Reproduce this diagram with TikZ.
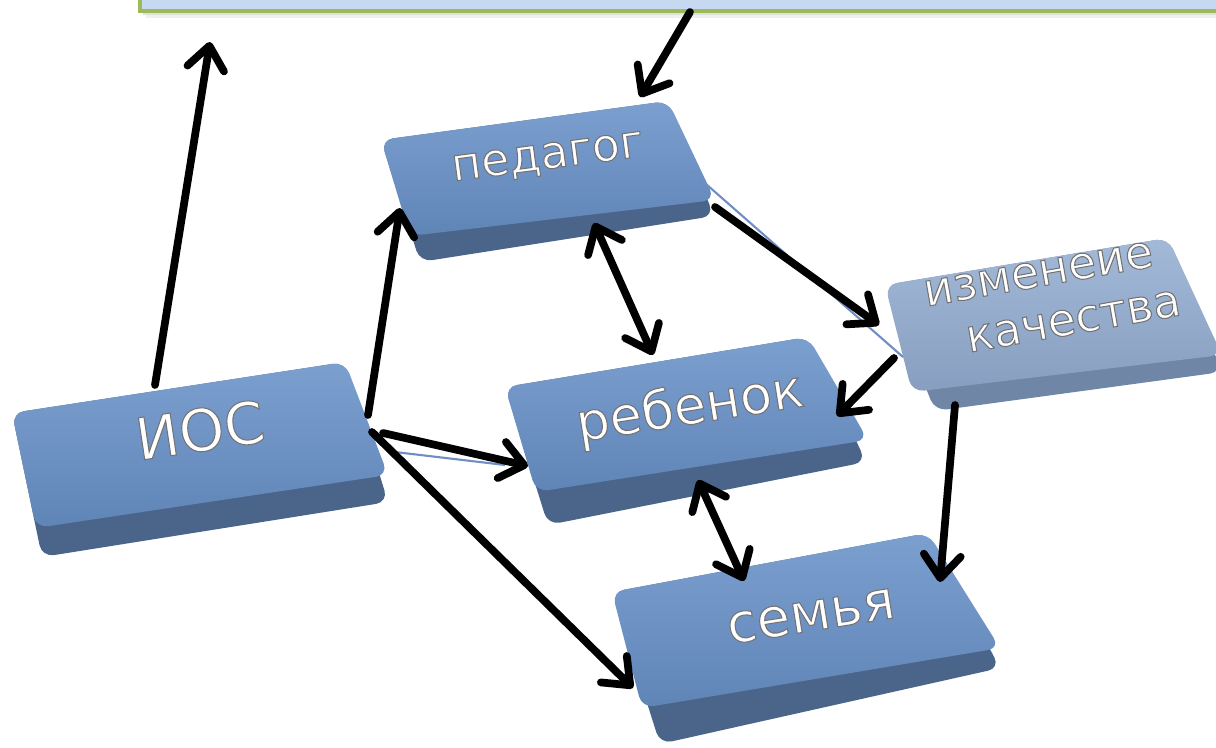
\documentclass[tikz,border=0pt]{standalone}
\usepackage{fontspec}
\setmainfont{DejaVu Sans}
\usetikzlibrary{arrows.meta,calc}
\definecolor{topfill}{HTML}{C6D9F1}
\definecolor{topborder}{HTML}{9BBB59}
\definecolor{kstrip}{HTML}{4A6589}
\definecolor{kfacelo}{HTML}{5F84B6}
\definecolor{krim}{HTML}{7BA0D0}
\definecolor{qstrip}{HTML}{6F86A6}
\definecolor{qfacelo}{HTML}{879EC0}
\definecolor{qrim}{HTML}{A3B9D8}
\definecolor{thinblue}{HTML}{6F8FC4}
\newcommand\drawkey[9]{%
  \fill[#7, rounded corners=2.4mm] #1 -- #2 -- #5 -- #6 -- cycle;
  \shade[top color=#9, bottom color=#8, rounded corners=2.4mm] #1 -- #2 -- #3 -- #4 -- cycle;
}
\newcommand\shtext[1]{\special{pdf:literal direct 2 Tr 0.45 0.45 0.45 RG 0.6 w}#1\special{pdf:literal direct 0 Tr}}
\tikzset{
  arr/.style={line width=4.4pt, black, line cap=round,
    -{Straight Barb[length=4.6mm,width=7.4mm,round]}},
  darr/.style={line width=4.4pt, black, line cap=round,
    {Straight Barb[length=4.6mm,width=7.4mm,round]}-{Straight Barb[length=4.6mm,width=7.4mm,round]}},
  lbl/.style={text=white, inner sep=0pt, align=center},
  thin/.style={thinblue, line width=1.2pt}
}
\begin{document}
\begin{tikzpicture}[x=0.02cm,y=-0.02cm]
\useasboundingbox (0,0) rectangle (1216,747);
% top box
\fill[black!6] (146,-10) rectangle (1236,18);
\fill[black!12] (143,-10) rectangle (1233,15);
\draw[topborder, line width=1.8pt, fill=topfill] (140,-10) rectangle (1230,11);

% keys
\drawkey{(12,413)}{(345,362)}{(388,475)}{(36,528)}{(388,502)}{(42,557)}{kstrip}{kfacelo}{krim}
\drawkey{(381,140)}{(668,101)}{(715,200)}{(410,236)}{(714,216)}{(420,262)}{kstrip}{kfacelo}{krim}
\drawkey{(505,387)}{(808,337)}{(868,440)}{(536,492)}{(866,462)}{(548,525)}{kstrip}{kfacelo}{krim}
\drawkey{(612,592)}{(928,533)}{(1000,648)}{(642,708)}{(1000,668)}{(660,744)}{kstrip}{kfacelo}{krim}
\drawkey{(885,285)}{(1168,238)}{(1222,355)}{(912,392)}{(1222,372)}{(935,411)}{qstrip}{qfacelo}{qrim}

% labels
\node[lbl, rotate=8.5, font=\fontsize{33}{35}\selectfont] (ios) at (200,430) {\shtext{ИОС}};
\node[lbl, rotate=7.5, font=\fontsize{26}{28}\selectfont] (ped) at (548,159) {\shtext{педагог}};
\node[lbl, rotate=9, font=\fontsize{30}{32}\selectfont] (reb) at (690,409) {\shtext{ребенок}};
\node[lbl, rotate=9, font=\fontsize{31}{33}\selectfont] (sem) at (811,616) {\shtext{семья}};
\node[lbl, rotate=10, font=\fontsize{26}{30}\selectfont] (izm) at (1043,300) {\shtext{изменеие}\\\hspace*{30pt}\shtext{качества}};

% connector points
\coordinate (ios-n) at (155,385);
\coordinate (top-l) at (210,42);
\coordinate (top-b) at (690,12);
\coordinate (ped-t) at (640,97);
\coordinate (ios-ne) at (368,415);
\coordinate (ped-sw) at (400,208);
\coordinate (ios-e) at (383,433);
\coordinate (reb-w) at (528,466);
\coordinate (ios-se) at (372,432);
\coordinate (sem-w) at (633,688);
\coordinate (ped-s1) at (594,223);
\coordinate (reb-n) at (653,355);
\coordinate (ped-se) at (715,207);
\coordinate (izm-w) at (879,325);
\coordinate (izm-sw) at (894,358);
\coordinate (reb-e) at (837,416);
\coordinate (izm-s1) at (955,405);
\coordinate (sem-ne) at (940,582);
\coordinate (reb-s1) at (698,480);
\coordinate (sem-n) at (744,581);
\coordinate (ped-c) at (690,170);
\coordinate (izm-c) at (903,357);
\coordinate (ios-c) at (372,432);
\coordinate (ios-m) at (395,452);
\coordinate (reb-c) at (505,465);

% thin original connectors
\draw[thin] (ped-c) -- (izm-c);
\draw[thin] (ios-c) -- (ios-m) -- (reb-c);

% arrows
\draw[arr] (ios-n) -- (top-l);
\draw[arr] (top-b) -- (ped-t);
\draw[arr] (ios-ne) -- (ped-sw);
\draw[arr] (ios-e) -- (reb-w);
\draw[arr] (ios-se) -- (sem-w);
\draw[darr] (ped-s1) -- (reb-n);
\draw[arr] (ped-se) -- (izm-w);
\draw[arr] (izm-sw) -- (reb-e);
\draw[arr] (izm-s1) -- (sem-ne);
\draw[darr] (reb-s1) -- (sem-n);
\end{tikzpicture}
\end{document}
